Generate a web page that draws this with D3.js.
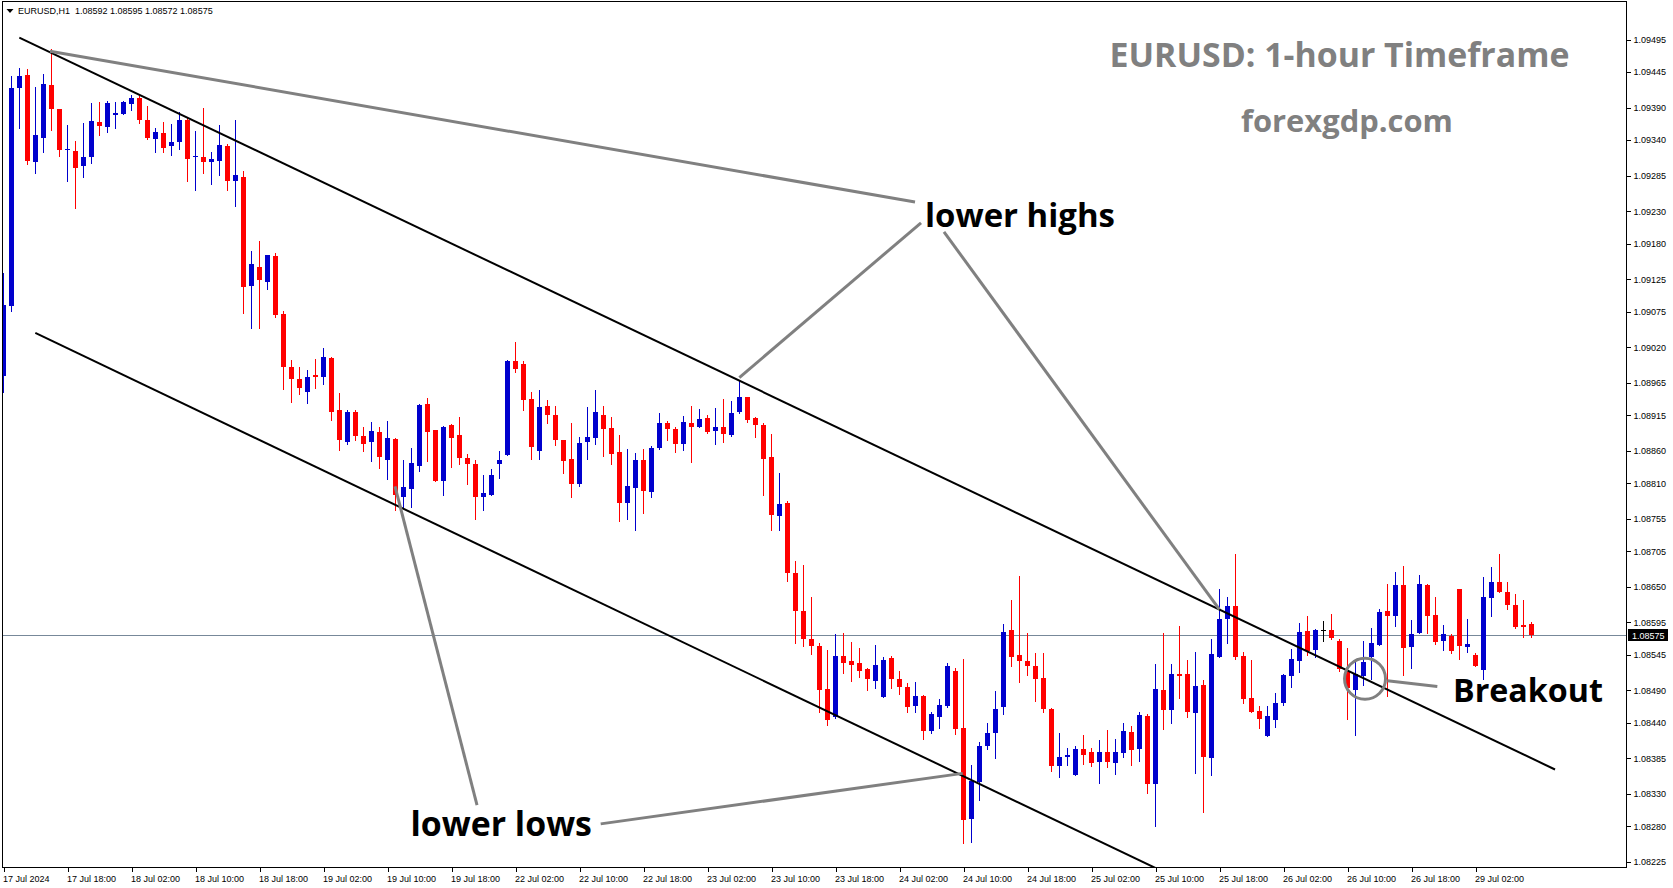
<!DOCTYPE html>
<html><head><meta charset="utf-8">
<script src="https://cdn.jsdelivr.net/npm/d3@7"></script>
<style>
html,body{margin:0;padding:0;background:#fff;}
svg{display:block;}
</style></head>
<body>
<svg id="chart" width="1673" height="888"></svg>
<script>
// ---------------- DATA ----------------
const symbol = "EURUSD,H1";
const opens = [
1.08976,1.09084,1.09420,1.09440,1.09306,1.09343,1.09424,1.09387,1.09325,1.09323,
1.09299,1.09314,1.09368,1.09360,1.09379,1.09380,1.09396,1.09405,1.09371,1.09341,
1.09351,1.09330,1.09336,1.09371,1.09313,1.09314,1.09306,1.09308,1.09331,1.09276,
1.09282,1.09115,1.09144,1.09121,1.09161,1.09071,1.08989,1.08971,1.08951,1.08977,
1.08974,1.09003,1.08923,1.08874,1.08920,1.08883,1.08874,1.08889,1.08846,1.08878,
1.08789,1.08801,1.08837,1.08932,1.08892,1.08814,1.08900,1.08884,1.08849,1.08839,
1.08788,1.08792,1.08839,1.08854,1.08998,1.08994,1.08940,1.08860,1.08929,1.08915,
1.08876,1.08848,1.08809,1.08874,1.08879,1.08915,1.08895,1.08858,1.08780,1.08803,
1.08846,1.08797,1.08865,1.08903,1.08894,1.08871,1.08903,1.08897,1.08911,1.08891,
1.08897,1.08885,1.08920,1.08943,1.08911,1.08900,1.08851,1.08760,1.08780,1.08671,
1.08613,1.08569,1.08559,1.08492,1.08449,1.08543,1.08535,1.08533,1.08523,1.08505,
1.08480,1.08540,1.08508,1.08495,1.08466,1.08482,1.08428,1.08449,1.08466,1.08520,
1.08432,1.08292,1.08348,1.08405,1.08425,1.08465,1.08583,1.08545,1.08536,1.08528,
1.08509,1.08462,1.08374,1.08388,1.08360,1.08400,1.08395,1.08380,1.08395,1.08378,
1.08394,1.08426,1.08400,1.08451,1.08346,1.08491,1.08460,1.08515,1.08516,1.08455,
1.08498,1.08386,1.08542,1.08600,1.08620,1.08543,1.08478,1.08459,1.08420,1.08445,
1.08471,1.08512,1.08536,1.08582,1.08553,1.08583,1.08583,1.08566,1.08520,1.08491,
1.08512,1.08541,1.08560,1.08613,1.08605,1.08653,1.08557,1.08579,1.08653,1.08606,
1.08567,1.08574,1.08647,1.08557,1.08545,1.08522,1.08633,1.08657,1.08642,1.08622,
1.08591,1.08592];
const highs = [
1.09134,1.09439,1.09451,1.09449,1.09422,1.09442,1.09481,1.09387,1.09363,1.09338,
1.09366,1.09397,1.09399,1.09400,1.09399,1.09400,1.09410,1.09408,1.09392,1.09359,
1.09368,1.09365,1.09383,1.09375,1.09353,1.09389,1.09321,1.09363,1.09334,1.09371,
1.09292,1.09168,1.09184,1.09163,1.09165,1.09076,1.09000,1.08989,1.08985,1.09002,
1.09019,1.09005,1.08949,1.08923,1.08923,1.08897,1.08904,1.08897,1.08906,1.08879,
1.08846,1.08864,1.08932,1.08941,1.08892,1.08899,1.08901,1.08912,1.08855,1.08846,
1.08823,1.08832,1.08860,1.09000,1.09028,1.08999,1.08951,1.08954,1.08938,1.08929,
1.08877,1.08903,1.08882,1.08927,1.08954,1.08929,1.08912,1.08885,1.08863,1.08857,
1.08863,1.08868,1.08918,1.08906,1.08897,1.08914,1.08929,1.08925,1.08915,1.08926,
1.08940,1.08937,1.08968,1.08943,1.08912,1.08903,1.08886,1.08825,1.08782,1.08690,
1.08683,1.08635,1.08563,1.08552,1.08577,1.08579,1.08565,1.08556,1.08524,1.08560,
1.08542,1.08543,1.08520,1.08502,1.08503,1.08483,1.08457,1.08477,1.08533,1.08524,
1.08538,1.08375,1.08411,1.08439,1.08489,1.08593,1.08630,1.08667,1.08578,1.08548,
1.08548,1.08463,1.08425,1.08401,1.08405,1.08421,1.08401,1.08413,1.08429,1.08415,
1.08440,1.08435,1.08456,1.08453,1.08531,1.08578,1.08531,1.08589,1.08537,1.08550,
1.08506,1.08569,1.08647,1.08634,1.08701,1.08549,1.08537,1.08466,1.08466,1.08486,
1.08516,1.08554,1.08594,1.08605,1.08585,1.08598,1.08608,1.08570,1.08556,1.08537,
1.08567,1.08586,1.08615,1.08654,1.08673,1.08682,1.08599,1.08668,1.08654,1.08634,
1.08591,1.08577,1.08647,1.08600,1.08548,1.08665,1.08681,1.08701,1.08657,1.08639,
1.08630,1.08595];
const lows = [
1.08951,1.09076,1.09358,1.09303,1.09289,1.09322,1.09356,1.09315,1.09276,1.09235,
1.09282,1.09305,1.09348,1.09352,1.09358,1.09380,1.09386,1.09366,1.09341,1.09321,
1.09322,1.09316,1.09326,1.09276,1.09262,1.09289,1.09272,1.09286,1.09262,1.09238,
1.09073,1.09050,1.09050,1.09110,1.09067,1.08955,1.08936,1.08948,1.08934,1.08957,
1.08963,1.08908,1.08862,1.08871,1.08876,1.08860,1.08845,1.08834,1.08817,1.08769,
1.08774,1.08774,1.08829,1.08845,1.08814,1.08792,1.08835,1.08839,1.08808,1.08755,
1.08768,1.08791,1.08818,1.08854,1.08982,1.08923,1.08848,1.08848,1.08903,1.08869,
1.08825,1.08788,1.08805,1.08848,1.08871,1.08852,1.08839,1.08751,1.08754,1.08738,
1.08764,1.08788,1.08863,1.08876,1.08858,1.08862,1.08842,1.08897,1.08888,1.08871,
1.08874,1.08883,1.08918,1.08905,1.08882,1.08792,1.08738,1.08738,1.08659,1.08564,
1.08559,1.08547,1.08457,1.08437,1.08448,1.08517,1.08505,1.08511,1.08491,1.08494,
1.08480,1.08494,1.08485,1.08456,1.08457,1.08415,1.08425,1.08432,1.08465,1.08423,
1.08255,1.08256,1.08321,1.08400,1.08385,1.08454,1.08528,1.08503,1.08514,1.08474,
1.08457,1.08366,1.08357,1.08375,1.08360,1.08377,1.08374,1.08347,1.08372,1.08361,
1.08388,1.08375,1.08381,1.08332,1.08281,1.08431,1.08440,1.08479,1.08449,1.08362,
1.08302,1.08359,1.08542,1.08564,1.08538,1.08471,1.08456,1.08432,1.08419,1.08434,
1.08468,1.08495,1.08519,1.08545,1.08542,1.08567,1.08570,1.08520,1.08446,1.08421,
1.08499,1.08508,1.08560,1.08482,1.08590,1.08514,1.08525,1.08579,1.08579,1.08561,
1.08553,1.08548,1.08539,1.08550,1.08527,1.08508,1.08605,1.08642,1.08616,1.08586,
1.08573,1.08572];
const closes = [
1.09085,1.09420,1.09439,1.09308,1.09347,1.09426,1.09387,1.09325,1.09326,1.09297,
1.09314,1.09369,1.09362,1.09397,1.09382,1.09399,1.09405,1.09371,1.09343,1.09352,
1.09328,1.09336,1.09371,1.09311,1.09315,1.09306,1.09311,1.09332,1.09276,1.09286,
1.09113,1.09148,1.09123,1.09162,1.09070,1.08990,1.08971,1.08957,1.08974,1.08974,
1.09005,1.08920,1.08876,1.08920,1.08883,1.08871,1.08891,1.08851,1.08880,1.08791,
1.08804,1.08841,1.08931,1.08889,1.08814,1.08897,1.08879,1.08849,1.08839,1.08788,
1.08795,1.08823,1.08846,1.08998,1.08987,1.08939,1.08866,1.08928,1.08916,1.08876,
1.08845,1.08808,1.08872,1.08882,1.08920,1.08893,1.08855,1.08780,1.08806,1.08846,
1.08798,1.08865,1.08903,1.08894,1.08871,1.08904,1.08897,1.08909,1.08889,1.08897,
1.08886,1.08918,1.08943,1.08908,1.08900,1.08848,1.08761,1.08778,1.08672,1.08613,
1.08570,1.08559,1.08490,1.08445,1.08543,1.08533,1.08530,1.08520,1.08507,1.08529,
1.08537,1.08508,1.08496,1.08465,1.08482,1.08428,1.08453,1.08468,1.08527,1.08431,
1.08290,1.08350,1.08405,1.08425,1.08461,1.08581,1.08542,1.08536,1.08527,1.08508,
1.08462,1.08374,1.08387,1.08390,1.08400,1.08391,1.08378,1.08395,1.08380,1.08395,
1.08427,1.08398,1.08452,1.08346,1.08492,1.08460,1.08515,1.08513,1.08456,1.08497,
1.08388,1.08546,1.08600,1.08620,1.08542,1.08477,1.08457,1.08446,1.08450,1.08471,
1.08514,1.08539,1.08580,1.08551,1.08583,1.08583,1.08571,1.08523,1.08494,1.08515,
1.08534,1.08563,1.08611,1.08605,1.08653,1.08556,1.08577,1.08654,1.08605,1.08565,
1.08577,1.08551,1.08559,1.08561,1.08527,1.08634,1.08657,1.08642,1.08622,1.08588,
1.08588,1.08575];

const xTickBars = [0,8,16,24,32,40,48,56,64,72,80,88,96,104,112,120,128,136,144,152,160,168,176,184];
const xTickLabels = ["17 Jul 2024","17 Jul 18:00","18 Jul 02:00","18 Jul 10:00","18 Jul 18:00","19 Jul 02:00",
  "19 Jul 10:00","19 Jul 18:00","22 Jul 02:00","22 Jul 10:00","22 Jul 18:00","23 Jul 02:00","23 Jul 10:00",
  "23 Jul 18:00","24 Jul 02:00","24 Jul 10:00","24 Jul 18:00","25 Jul 02:00","25 Jul 10:00","25 Jul 18:00",
  "26 Jul 02:00","26 Jul 10:00","26 Jul 18:00","29 Jul 02:00"];
const yTickValues = [1.09495,1.09445,1.09390,1.09340,1.09285,1.09230,1.09180,1.09125,1.09075,1.09020,
  1.08965,1.08915,1.08860,1.08810,1.08755,1.08705,1.08650,1.08595,1.08545,1.08490,1.08440,1.08385,
  1.08330,1.08280,1.08225];
const currentPrice = 1.08575;

// annotation anchors in data space: [bar index, price]
const upperChannel = [[1.975,1.09498],[193.94,1.08368]];
const lowerChannel = [[3.975,1.09042],[145.0,1.08210]];
const highsLeaders = [
  [[5.81,1.09477],[113.94,1.09244]],
  [[91.98,1.08973],[114.69,1.09212]],
  [[117.56,1.09198],[151.98,1.08615]]];
const lowsLeaders = [
  [[48.94,1.08805],[59.19,1.08313]],
  [[74.65,1.08284],[119.9,1.08362]]];
const breakoutPoint = [170.19,1.08508];
const breakoutLeader = [[172.98,1.08505],[179.23,1.08496]];

const titleText = "EURUSD: 1-hour Timeframe";
const siteText = "forexgdp.com";
const labelHighs = "lower highs";
const labelLows = "lower lows";
const labelBreak = "Breakout";

// ---------------- DRAW ----------------
const svg = d3.select("#chart");
const W = 1673, H = 888;
const plot = {left:2, top:2, right:1626, bottom:867};

const x = d3.scaleLinear().domain([0, 191]).range([3.5, 1531.5]);
const y = d3.scaleLinear().domain([1.08225, 1.09495]).range([862.1, 39.5]);

svg.append("rect").attr("width", W).attr("height", H).attr("fill", "#fff");

svg.append("defs").append("clipPath").attr("id","plotclip")
  .append("rect").attr("x", plot.left+0.5).attr("y", plot.top+0.5)
  .attr("width", plot.right-plot.left-0.5).attr("height", plot.bottom-plot.top-0.5);

const g = svg.append("g").attr("clip-path","url(#plotclip)");

// current price line (behind candles)
const cpY = Math.round(y(currentPrice)) + 0.5;
g.append("line").attr("x1", plot.left).attr("x2", plot.right)
  .attr("y1", cpY).attr("y2", cpY).attr("stroke", "#778899").attr("stroke-width", 1);

// candles
const candles = d3.range(opens.length).map(i => ({i, o:opens[i], h:highs[i], l:lows[i], c:closes[i]}));
const colorOf = d => d.c > d.o ? "#0000cd" : (d.c < d.o ? "#ff0000" : "#000000");

const cg = g.append("g").attr("shape-rendering","crispEdges");
cg.selectAll("rect.wick").data(candles).join("rect").attr("class","wick")
  .attr("x", d => x(d.i) - 0.5).attr("width", 1)
  .attr("y", d => Math.round(y(d.h)))
  .attr("height", d => Math.max(1, Math.round(y(d.l)) - Math.round(y(d.h)) + 1))
  .attr("fill", colorOf);
cg.selectAll("rect.body").data(candles).join("rect").attr("class","body")
  .attr("x", d => x(d.i) - 2.5).attr("width", 5)
  .attr("y", d => Math.round(y(Math.max(d.o, d.c))))
  .attr("height", d => Math.max(1, Math.round(y(Math.min(d.o, d.c))) - Math.round(y(Math.max(d.o, d.c)))))
  .attr("fill", colorOf);

// channel lines
const line = d3.line().x(p => x(p[0])).y(p => y(p[1]));
[upperChannel, lowerChannel].forEach(seg => {
  g.append("path").attr("d", line(seg)).attr("fill","none")
   .attr("stroke","#000").attr("stroke-width",2);
});

// gray leaders
const gray = "#808080";
[...highsLeaders, ...lowsLeaders, breakoutLeader].forEach(seg => {
  g.append("path").attr("d", line(seg)).attr("fill","none")
   .attr("stroke",gray).attr("stroke-width",3);
});
g.append("circle").attr("cx", x(breakoutPoint[0])).attr("cy", y(breakoutPoint[1]))
  .attr("r", 20.5).attr("fill","none").attr("stroke",gray).attr("stroke-width",3);

// frame
svg.append("rect").attr("x", plot.left+0.5).attr("y", plot.top-0.5)
  .attr("width", plot.right-plot.left).attr("height", plot.bottom-plot.top+1)
  .attr("fill","none").attr("stroke","#000").attr("stroke-width",1)
  .attr("shape-rendering","crispEdges");

const axisFont = "'Liberation Sans', Arial, sans-serif";

// y axis (right)
const ya = svg.append("g").attr("transform", `translate(${plot.right+0.5},0)`);
const yAxis = d3.axisRight(y).tickValues(yTickValues).tickSize(4).tickPadding(3)
  .tickFormat(d3.format(".5f"));
ya.call(yAxis);
ya.select(".domain").remove();
ya.selectAll("line").attr("stroke","#000").attr("shape-rendering","crispEdges");
ya.selectAll("text").attr("font-family", axisFont).attr("font-size", 9).attr("fill","#000");

// x axis (bottom)
const xa = svg.append("g").attr("transform", `translate(0,${plot.bottom+0.5})`);
const xAxis = d3.axisBottom(x).tickValues(xTickBars).tickSize(4).tickPadding(4)
  .tickFormat((d,i) => xTickLabels[i]);
xa.call(xAxis);
xa.select(".domain").remove();
xa.selectAll("line").attr("stroke","#000").attr("shape-rendering","crispEdges");
xa.selectAll("text").attr("font-family", axisFont).attr("font-size", 9).attr("fill","#000")
  .attr("text-anchor","start").attr("dx", -1);

// current price tag
const tag = svg.append("g");
tag.append("rect").attr("x", plot.right+1.5).attr("y", cpY-6.5).attr("width", 40).attr("height", 12)
  .attr("fill","#000").attr("shape-rendering","crispEdges");
tag.append("text").attr("x", plot.right+6).attr("y", cpY+3.5)
  .attr("font-family", axisFont).attr("font-size", 9).attr("fill","#fff")
  .text(d3.format(".5f")(currentPrice));

// header
const last = candles[candles.length-1];
svg.append("path").attr("d","M6.5,9 L13.5,9 L10,13 Z").attr("fill","#000");
svg.append("text").attr("x", 18).attr("y", 14).attr("xml:space","preserve")
  .style("white-space","pre")
  .attr("font-family", axisFont).attr("font-size", 9).attr("fill","#000")
  .text(`${symbol}  ${[last.o,last.h,last.l,last.c].map(d3.format(".5f")).join(" ")}`);

// annotation texts
const annFont = "'Open Sans', 'Noto Sans', sans-serif";
function fitText(sel, width) {
  const len = sel.node().getComputedTextLength();
  const fs = parseFloat(sel.attr("font-size"));
  sel.attr("font-size", fs * width / len);
}
const t1 = svg.append("text").attr("x", 1109.5).attr("y", 66.7)
  .attr("font-family", annFont).attr("font-weight", 700).attr("font-size", 28)
  .attr("fill", gray).text(titleText);
fitText(t1, 460);
const t2 = svg.append("text").attr("x", 1241).attr("y", 131.5)
  .attr("font-family", annFont).attr("font-weight", 700).attr("font-size", 28)
  .attr("fill", gray).text(siteText);
fitText(t2, 212);
const t3 = svg.append("text").attr("x", 925).attr("y", 227)
  .attr("font-family", annFont).attr("font-weight", 700).attr("font-size", 33)
  .attr("fill", "#000").text(labelHighs);
fitText(t3, 190);
const t4 = svg.append("text").attr("x", 410.5).attr("y", 836)
  .attr("font-family", annFont).attr("font-weight", 700).attr("font-size", 33)
  .attr("fill", "#000").text(labelLows);
fitText(t4, 181.5);
const t5 = svg.append("text").attr("x", 1453).attr("y", 702)
  .attr("font-family", annFont).attr("font-weight", 700).attr("font-size", 33)
  .attr("fill", "#000").text(labelBreak);
fitText(t5, 150);
</script>
</body></html>
